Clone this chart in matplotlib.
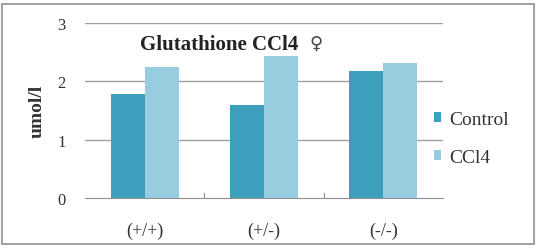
import matplotlib.pyplot as plt
import matplotlib.patches as mpatches
import numpy as np

categories = ['(+/+)', '(+/-)', '(-/-)']
control = [1.78, 1.59, 2.17]
ccl4 = [2.24, 2.44, 2.31]

c_control = '#3d9fbb'
c_ccl4 = '#98cde0'
fam = ['Liberation Serif', 'DejaVu Serif', 'DejaVu Sans']
plt.rcParams['font.family'] = fam

fig = plt.figure(figsize=(5.37, 2.51), dpi=100)
ax = fig.add_axes([0.158, 0.207, 0.667, 0.697])

x = np.arange(len(categories))
w = 0.285
ax.bar(x - w / 2, control, w, color=c_control, label='Control', zorder=3)
ax.bar(x + w / 2, ccl4, w, color=c_ccl4, label='CCl4', zorder=3)

ax.set_xlim(-0.5, 2.5)
ax.set_ylim(0, 3)
ax.set_yticks([0, 1, 2, 3])
ax.set_xticks(x)
ax.set_xticklabels(categories, fontsize=13)
ax.tick_params(axis='y', labelsize=12, length=0, pad=14, colors='#333333')
ax.tick_params(axis='x', length=0, pad=17, colors='#333333')
for yv in [1, 2, 3]:
    ax.axhline(yv, color='#a0a0a0', lw=1.0, zorder=1)
for xb in [0.5, 1.5]:
    ax.plot([xb, xb], [0, 0.08], color='#909090', lw=0.8, zorder=2)
for s in ['top', 'right', 'left']:
    ax.spines[s].set_visible(False)
ax.spines['bottom'].set_color('#909090')

ax.set_ylabel('umol/l', fontsize=14, fontweight='bold', color='#333333', labelpad=8)
ax.text(0.155, 0.935, 'Glutathione CCl4', transform=ax.transAxes,
        fontsize=15, fontweight='bold', va='top', ha='left', color='#222222')
ax.text(0.628, 0.94, '\u2640', transform=ax.transAxes, family='DejaVu Sans',
        fontsize=13, va='top', ha='left', color='#444444')

leg = fig.legend(loc='upper left', bbox_to_anchor=(0.775, 0.625), frameon=False,
                 fontsize=14, handlelength=0.4, handleheight=0.4,
                 handletextpad=0.4, labelspacing=1.1, labelcolor='#333333')

fig.patches.append(mpatches.Rectangle((0.004, 0.022), 0.991, 0.958, transform=fig.transFigure,
                                      fill=False, edgecolor='#909090', lw=1.2))

fig.savefig('out.png', dpi=100, facecolor='white')
